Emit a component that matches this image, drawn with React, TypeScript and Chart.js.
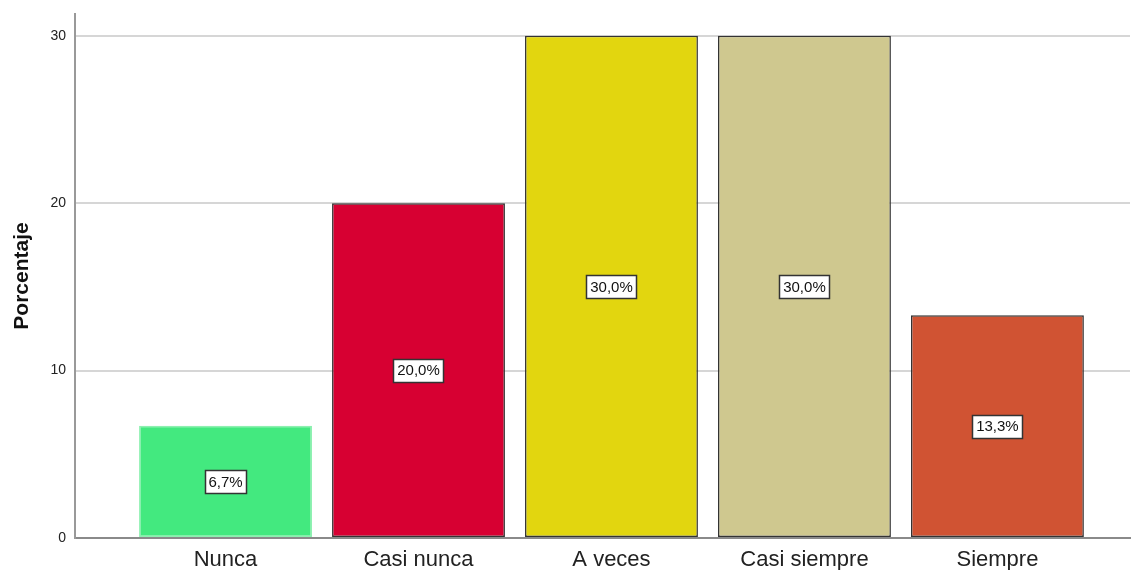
import React, { useEffect, useRef } from "react";
import { Chart, registerables } from "chart.js";

Chart.register(...registerables);

const categories = ["Nunca", "Casi nunca", "A veces", "Casi siempre", "Siempre"];
const percentages = [6.7, 20.0, 30.0, 30.0, 13.3];
const valueLabels = ["6,7%", "20,0%", "30,0%", "30,0%", "13,3%"];
const yTicks = [0, 10, 20, 30];
const barColors = ["#43E97F", "#D70032", "#E2D60F", "#CFC88F", "#D05333"];
const barBorders = ["#8DF0B0", "#333333", "#333333", "#333333", "#333333"];

const FONT = "'Liberation Sans', Arial, sans-serif";

const labelBoxes = {
  id: "labelBoxes",
  afterDatasetsDraw(chart: any) {
    const ctx = chart.ctx;
    const meta = chart.getDatasetMeta(0);
    ctx.save();
    ctx.font = `15px ${FONT}`;
    ctx.textAlign = "center";
    ctx.textBaseline = "middle";
    meta.data.forEach((el: any, i: number) => {
      const { x, y, base } = el.getProps(["x", "y", "base"], true);
      const cy = (y + base) / 2;
      const text = valueLabels[i];
      const w = Math.round(ctx.measureText(text).width + 7);
      const h = 23;
      const bx = Math.round(x - w / 2) + 0.5;
      const by = Math.round(cy - h / 2) + 0.5;
      ctx.fillStyle = "#ffffff";
      ctx.fillRect(bx, by, w, h);
      ctx.strokeStyle = "#333333";
      ctx.lineWidth = 1.5;
      ctx.strokeRect(bx, by, w, h);
      ctx.fillStyle = "#111111";
      ctx.fillText(text, x, cy + 1);
    });
    ctx.restore();
  },
};

export default function App() {
  const ref = useRef<HTMLCanvasElement | null>(null);

  useEffect(() => {
    if (!ref.current) return;
    const chart = new Chart(ref.current, {
      type: "bar",
      data: {
        datasets: [
          {
            data: percentages.map((v, i) => ({ x: i, y: v })),
            backgroundColor: barColors,
            borderColor: barBorders,
            borderWidth: 1.5,
            borderSkipped: false,
            categoryPercentage: 1,
            barPercentage: 0.896,
          },
        ],
      },
      options: {
        responsive: false,
        animation: false,
        layout: { padding: { top: 14, right: 4, left: 0, bottom: 0 } },
        plugins: { legend: { display: false }, tooltip: { enabled: false } },
        scales: {
          x: {
            type: "linear",
            offset: false,
            min: -0.78,
            max: 4.687,
            afterFit: (s: any) => {
              s.height = 32;
              s.paddingLeft = 0;
              s.paddingRight = 0;
            },
            afterBuildTicks: (s: any) => {
              s.ticks = categories.map((_, i) => ({ value: i }));
            },
            ticks: {
              callback: (v: any) => categories[v as number] ?? "",
              font: { family: FONT, size: 22 },
              color: "#222222",
              padding: 9,
              maxRotation: 0,
              autoSkip: false,
            },
            grid: { display: false, drawTicks: false, offset: false },
            border: { display: true, color: "#8a8a8a", width: 2 },
          },
          y: {
            min: 0,
            max: 31.3,
            afterFit: (s: any) => {
              s.width = 75;
              s.paddingTop = 0;
              s.paddingBottom = 0;
            },
            afterBuildTicks: (s: any) => {
              s.ticks = yTicks.map((v) => ({ value: v }));
            },
            ticks: {
              font: { family: FONT, size: 14 },
              color: "#222222",
              padding: 9,
            },
            grid: { color: "#d6d6d6", lineWidth: 2, drawTicks: false },
            border: { display: true, color: "#999999", width: 2 },
            title: {
              display: true,
              text: "Porcentaje",
              font: { family: FONT, size: 21, weight: "bold" },
              color: "#111111",
              padding: { top: 10, bottom: 0 },
            },
          },
        },
      },
      plugins: [labelBoxes],
    });
    return () => chart.destroy();
  }, []);

  return (
    <div style={{ position: "fixed", left: 0, top: 0, width: 1134, height: 570, background: "#ffffff" }}>
      <canvas ref={ref} width={1134} height={570} style={{ display: "block" }} />
    </div>
  );
}
